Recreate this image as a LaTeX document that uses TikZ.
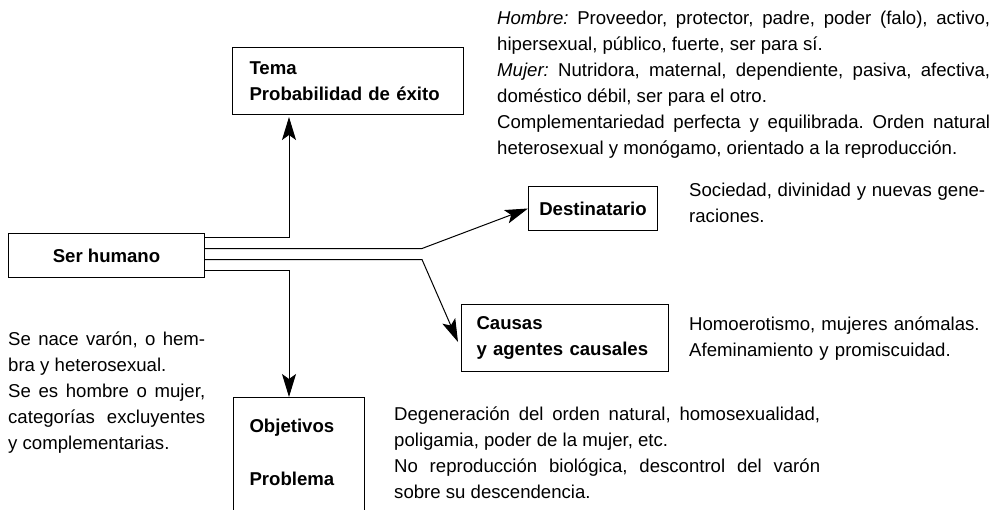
\documentclass[tikz,border=0pt]{standalone}
\usepackage{fontspec}
\setmainfont{Liberation Sans}
\usetikzlibrary{arrows.meta}
\hyphenpenalty=10000
\frenchspacing

\begin{document}
\begin{tikzpicture}[x=1pt,y=-1pt,%%
  boxStyle/.style={draw,line width=1pt,inner sep=0pt,anchor=north west,%%
    font=\fontsize{18.6}{26}\selectfont\bfseries},%%
  lineStyle/.style={-,line width=1pt},%%
  arrowStyle/.style={-{Stealth[length=23pt,width=14pt,inset=5pt]},line width=1pt},%%
  textStyle/.style={inner sep=0pt,anchor=base west,align=justify,%%
    font=\fontsize{18.6}{26}\selectfont}%%
]
%%
%% Fix the page to the size of the figure.
\path[use as bounding box] (0,0) rectangle (1001,509);
\clip (0,0) rectangle (1001,509);
%%
\pgfmathsetmacro{\xbend}{289} %% the vertical branches
\pgfmathsetmacro{\xfork}{422} %% where the slanted branches start
%%
%% The boxes.
\node[boxStyle,minimum width=196pt,minimum height=44pt] (serHumano) at (8,233) {Ser humano};
\node[boxStyle,align=left,text width=197pt,inner xsep=17pt,minimum height=67pt] (tema) at (232,47)
  {Tema\\Probabilidad de éxito};
\node[boxStyle,minimum width=129pt,minimum height=44pt] (destinatario) at (528,186) {Destinatario};
\node[boxStyle,align=left,text width=177pt,inner xsep=15pt,minimum height=67pt] (causas) at (461,304)
  {Causas\\y agentes causales};
%% This box runs off the bottom of the page.
\node[boxStyle,align=left,text width=99pt,inner xsep=16pt,inner ysep=21pt,%%
  text height=14pt,text depth=115pt] (objetivos) at (233,397) {Objetivos\\[27pt]Problema};
%%
%% The four branches leaving Ser humano.
\coordinate (temaBend) at (\xbend,237.5);
\coordinate (destBend) at (\xfork,248.5);
\coordinate (causasBend) at (\xfork,259.5);
\coordinate (objBend) at (\xbend,270.5);
\draw[arrowStyle,shorten >=2pt] (serHumano.east |- temaBend) -- (temaBend) -- (tema.south -| temaBend);
\draw[arrowStyle] (serHumano.east |- destBend) -- (destBend) -- (destinatario.west);
\draw[arrowStyle] (serHumano.east |- causasBend) -- (causasBend) -- ([xshift=-3pt,yshift=-4pt]causas.west);
\draw[arrowStyle] (serHumano.east |- objBend) -- (objBend) -- (objetivos.north -| objBend);
%%
%% The notes beside the boxes.
\node[textStyle,text width=493pt] (rolesText) at (497,24)
  {\textit{Hombre:} Proveedor, protector, padre, poder (falo), activo,\linebreak
   hipersexual, público, fuerte, ser para sí.\\
   \textit{Mujer:} Nutridora, maternal, dependiente, pasiva, afectiva,\linebreak
   doméstico débil, ser para el otro.\\
   Complementariedad perfecta y equilibrada. Orden natural\linebreak
   heterosexual y monógamo, orientado a la reproducción.};
\node[textStyle,text width=296pt] (destText) at (689,196)
  {Sociedad, divinidad y nuevas gene-\linebreak raciones.};
\node[textStyle,align=left,text width=300pt] (causasText) at (689,330)
  {Homoerotismo, mujeres anómalas.\\Afeminamiento y promiscuidad.};
\node[textStyle,text width=426pt] (objText) at (394,420)
  {Degeneración del orden natural, homosexualidad,\linebreak
   poligamia, poder de la mujer, etc.\\
   No reproducción biológica, descontrol del varón\linebreak
   sobre su descendencia.};
\node[textStyle,text width=197pt] (humanoText) at (8,345)
  {Se nace varón, o hem-\linebreak bra y heterosexual.\\
   Se es hombre o mujer,\linebreak categorías excluyentes\linebreak y complementarias.};
\end{tikzpicture}
\end{document}
